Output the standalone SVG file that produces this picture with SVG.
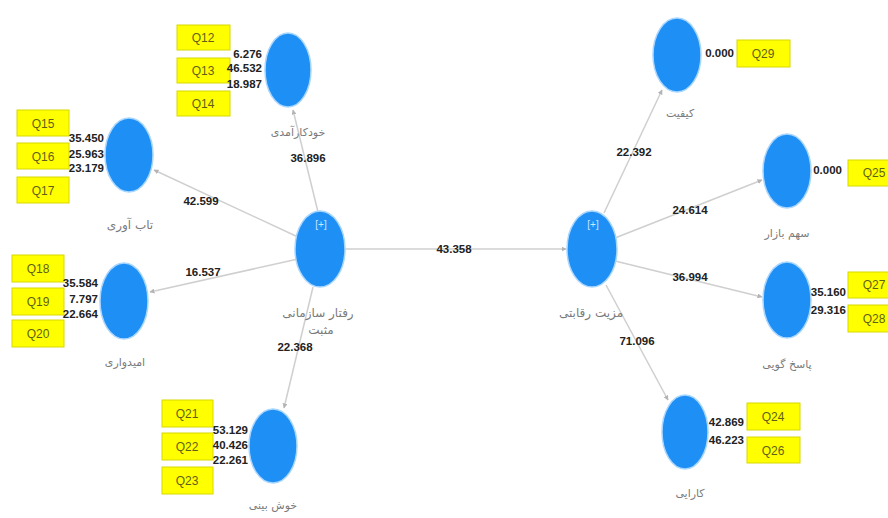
<svg xmlns="http://www.w3.org/2000/svg" width="888" height="518" viewBox="0 0 888 518">
  <style>
    .lv { fill: #1e8ff5; stroke: #a9d6ff; stroke-width: 1.5; }
    .ind rect { fill: #ffff00; stroke: #d8d800; stroke-width: 1; }
    .ind text { font-family: "Liberation Sans", Arial, sans-serif; font-size: 12px; fill: #5f5f1a; text-anchor: middle; }
    .num { font-family: "Liberation Sans", Arial, sans-serif; font-size: 11.5px; font-weight: bold; fill: #222; }
    .ld { text-anchor: end; }
    .pc { text-anchor: middle; }
    .name { font-family: "DejaVu Sans", "Noto Sans", sans-serif; font-size: 11px; fill: #7a7a7a; text-anchor: middle; }
    .plus { font-family: "Liberation Sans", Arial, sans-serif; font-size: 10px; fill: #cfe6ff; text-anchor: middle; }
    .edge { stroke: #cfcfcf; stroke-width: 1.5; fill: none; marker-end: url(#arr); }
  </style>
  <defs>
    <marker id="arr" viewBox="0 0 10 10" refX="9" refY="5" markerWidth="5" markerHeight="5" orient="auto" markerUnits="userSpaceOnUse">
      <path d="M0,0 L10,5 L0,10 z" fill="#b4b4b4"/>
    </marker>
  </defs>
  <rect width="888" height="518" fill="#ffffff"/>

  <!-- structural paths -->
  <g id="connectors">
    <line class="edge" x1="318" y1="212" x2="293" y2="110"/>
    <line class="edge" x1="298" y1="237" x2="154" y2="170"/>
    <line class="edge" x1="298" y1="259" x2="150" y2="292"/>
    <line class="edge" x1="313" y1="287" x2="284" y2="408"/>
    <line class="edge" x1="345" y1="249" x2="566" y2="249"/>
    <line class="edge" x1="604" y1="213" x2="662" y2="90"/>
    <line class="edge" x1="615" y1="238" x2="762" y2="180"/>
    <line class="edge" x1="615" y1="261" x2="762" y2="297"/>
    <line class="edge" x1="606" y1="285" x2="668" y2="400"/>
    <text class="num pc" x="308" y="162">36.896</text>
    <text class="num pc" x="201" y="205">42.599</text>
    <text class="num pc" x="203" y="276">16.537</text>
    <text class="num pc" x="295" y="351">22.368</text>
    <text class="num pc" x="454" y="253">43.358</text>
    <text class="num pc" x="634" y="156">22.392</text>
    <text class="num pc" x="690" y="214">24.614</text>
    <text class="num pc" x="690" y="281">36.994</text>
    <text class="num pc" x="637" y="345">71.096</text>
  </g>

  <!-- self-efficacy -->
  <g id="node-khodkaramadi">
    <ellipse class="lv" cx="288" cy="70" rx="23" ry="37"/>
    <g class="ind">
      <rect x="177" y="25" width="53" height="25"/><text x="203" y="42">Q12</text>
      <rect x="177" y="58" width="53" height="25"/><text x="203" y="75">Q13</text>
      <rect x="177" y="91" width="53" height="25"/><text x="203" y="108">Q14</text>
    </g>
    <text class="num ld" x="262" y="58">6.276</text>
    <text class="num ld" x="262" y="72">46.532</text>
    <text class="num ld" x="262" y="88">18.987</text>
    <text class="name" x="298" y="136">خودکارآمدی</text>
  </g>

  <!-- resilience -->
  <g id="node-tabavari">
    <ellipse class="lv" cx="129" cy="155" rx="24" ry="37"/>
    <g class="ind">
      <rect x="17" y="110" width="52" height="26"/><text x="43" y="128">Q15</text>
      <rect x="17" y="143" width="52" height="26"/><text x="43" y="161">Q16</text>
      <rect x="17" y="177" width="52" height="26"/><text x="43" y="195">Q17</text>
    </g>
    <text class="num ld" x="104" y="142">35.450</text>
    <text class="num ld" x="104" y="158">25.963</text>
    <text class="num ld" x="104" y="172">23.179</text>
    <text class="name" x="130" y="229" style="font-size:12px">تاب آوری</text>
  </g>

  <!-- hope -->
  <g id="node-omidvari">
    <ellipse class="lv" cx="124" cy="301" rx="24" ry="38"/>
    <g class="ind">
      <rect x="12" y="255" width="52" height="27"/><text x="38" y="273">Q18</text>
      <rect x="12" y="288" width="52" height="27"/><text x="38" y="306">Q19</text>
      <rect x="12" y="320" width="52" height="27"/><text x="38" y="338">Q20</text>
    </g>
    <text class="num ld" x="98" y="287">35.584</text>
    <text class="num ld" x="98" y="303">7.797</text>
    <text class="num ld" x="98" y="318">22.664</text>
    <text class="name" x="125" y="366">امیدواری</text>
  </g>

  <!-- optimism -->
  <g id="node-khoshbini">
    <ellipse class="lv" cx="273" cy="446" rx="24" ry="37"/>
    <g class="ind">
      <rect x="162" y="400" width="51" height="27"/><text x="187" y="418">Q21</text>
      <rect x="162" y="433" width="51" height="27"/><text x="187" y="451">Q22</text>
      <rect x="162" y="467" width="51" height="27"/><text x="187" y="485">Q23</text>
    </g>
    <text class="num ld" x="248" y="434">53.129</text>
    <text class="num ld" x="248" y="449">40.426</text>
    <text class="num ld" x="248" y="464">22.261</text>
    <text class="name" x="273" y="509">خوش بینی</text>
  </g>

  <!-- positive organizational behaviour (second order) -->
  <g id="node-raftar">
    <ellipse class="lv" cx="320" cy="249" rx="25" ry="38"/>
    <text class="plus" x="321" y="228">[+]</text>
    <text class="name" x="318" y="317" style="font-size:12px">رفتار سازمانی</text>
    <text class="name" x="321" y="334" style="font-size:12px">مثبت</text>
  </g>

  <!-- competitive advantage (second order) -->
  <g id="node-mazeeyat">
    <ellipse class="lv" cx="592" cy="249" rx="25" ry="38"/>
    <text class="plus" x="593" y="228">[+]</text>
    <text class="name" x="591" y="317" style="font-size:12px">مزیت رقابتی</text>
  </g>

  <!-- quality -->
  <g id="node-keyfiyat">
    <ellipse class="lv" cx="677" cy="55" rx="24" ry="37"/>
    <text class="num ld" x="734" y="57">0.000</text>
    <g class="ind">
      <rect x="737" y="40" width="53" height="27"/><text x="763" y="58">Q29</text>
    </g>
    <text class="name" x="680" y="117">کیفیت</text>
  </g>

  <!-- market share -->
  <g id="node-sahmbazar">
    <ellipse class="lv" cx="787" cy="171" rx="24" ry="37"/>
    <text class="num ld" x="842" y="174">0.000</text>
    <g class="ind">
      <rect x="848" y="160" width="52" height="26"/><text x="874" y="177">Q25</text>
    </g>
    <text class="name" x="787" y="237">سهم بازار</text>
  </g>

  <!-- responsiveness -->
  <g id="node-pasokhgooyi">
    <ellipse class="lv" cx="787" cy="300" rx="24" ry="38"/>
    <text class="num ld" x="846" y="296">35.160</text>
    <text class="num ld" x="846" y="314">29.316</text>
    <g class="ind">
      <rect x="848" y="272" width="52" height="26"/><text x="874" y="289">Q27</text>
      <rect x="848" y="305" width="52" height="27"/><text x="874" y="323">Q28</text>
    </g>
    <text class="name" x="787" y="368">پاسخ گویی</text>
  </g>

  <!-- efficiency -->
  <g id="node-karayi">
    <ellipse class="lv" cx="685" cy="432" rx="23" ry="37"/>
    <text class="num ld" x="744" y="426">42.869</text>
    <text class="num ld" x="744" y="444">46.223</text>
    <g class="ind">
      <rect x="747" y="403" width="53" height="27"/><text x="773" y="421">Q24</text>
      <rect x="747" y="437" width="53" height="26"/><text x="773" y="455">Q26</text>
    </g>
    <text class="name" x="690" y="497">کارایی</text>
  </g>
</svg>
